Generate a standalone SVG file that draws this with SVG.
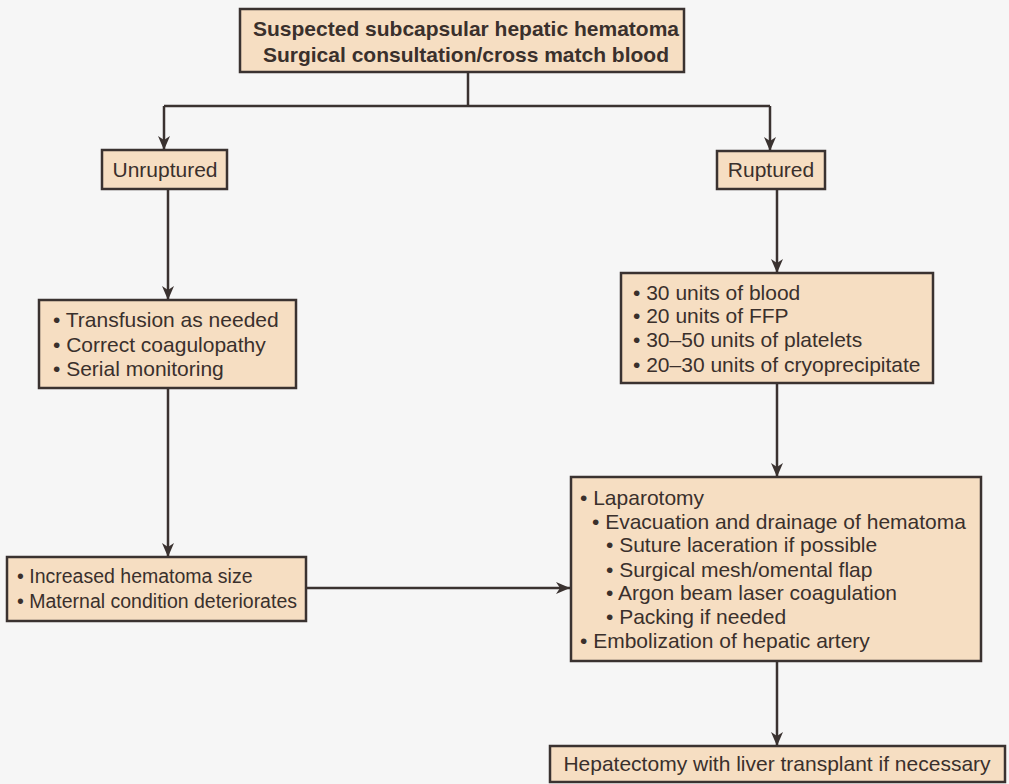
<svg xmlns="http://www.w3.org/2000/svg" width="1009" height="784" viewBox="0 0 1009 784">
  <defs>
    <marker id="arrow" viewBox="0 0 14 12" refX="14" refY="6" markerWidth="14" markerHeight="12" markerUnits="userSpaceOnUse" orient="auto">
      <path d="M14,6 L0,0 L4,6 L0,12 Z" fill="#3a3230"/>
    </marker>
    <style>
      .box { fill: #f6dec2; stroke: #3a3230; stroke-width: 2.5; }
      .t { font-family: "Liberation Sans", Arial, sans-serif; font-size: 21px; fill: #3a302c; }
      .b { font-weight: bold; }
      .c { text-anchor: middle; }
      .edge { fill: none; stroke: #3a3230; stroke-width: 2.5; }
    </style>
  </defs>

  <rect width="1009" height="784" fill="#f6f6f6"/>

  <!-- connectors -->
  <g id="connectors">
    <path class="edge" d="M468,72 V106"/>
    <path class="edge" d="M164,106 H770"/>
    <path class="edge" d="M164,106 V150" marker-end="url(#arrow)"/>
    <path class="edge" d="M770,106 V151" marker-end="url(#arrow)"/>
    <path class="edge" d="M168,189 V300" marker-end="url(#arrow)"/>
    <path class="edge" d="M168,388 V557" marker-end="url(#arrow)"/>
    <path class="edge" d="M777,189 V273" marker-end="url(#arrow)"/>
    <path class="edge" d="M777,383 V477" marker-end="url(#arrow)"/>
    <path class="edge" d="M306,588 H570" marker-end="url(#arrow)"/>
    <path class="edge" d="M777,661 V746" marker-end="url(#arrow)"/>
  </g>

  <!-- start node -->
  <g id="suspected">
    <rect class="box" x="240" y="9" width="444" height="63"/>
    <text class="t b c" x="466" y="36">Suspected subcapsular hepatic hematoma</text>
    <text class="t b c" x="466" y="62">Surgical consultation/cross match blood</text>
  </g>

  <g id="unruptured">
    <rect class="box" x="102" y="150" width="125" height="39"/>
    <text class="t c" x="165" y="177">Unruptured</text>
  </g>

  <g id="ruptured">
    <rect class="box" x="717" y="151" width="108" height="38"/>
    <text class="t c" x="771" y="177">Ruptured</text>
  </g>

  <g id="conservative">
    <rect class="box" x="39" y="300" width="257" height="88"/>
    <text class="t" x="53" y="327">• Transfusion as needed</text>
    <text class="t" x="53" y="352">• Correct coagulopathy</text>
    <text class="t" x="53" y="376">• Serial monitoring</text>
  </g>

  <g id="products">
    <rect class="box" x="621" y="273" width="312" height="110"/>
    <text class="t" x="633" y="300">• 30 units of blood</text>
    <text class="t" x="633" y="323">• 20 units of FFP</text>
    <text class="t" x="633" y="347">• 30–50 units of platelets</text>
    <text class="t" x="633" y="372">• 20–30 units of cryoprecipitate</text>
  </g>

  <g id="deterioration">
    <rect class="box" x="7" y="557" width="299" height="64"/>
    <text class="t" x="17" y="583" style="font-size:19.5px">• Increased hematoma size</text>
    <text class="t" x="17" y="608" style="font-size:19.5px">• Maternal condition deteriorates</text>
  </g>

  <g id="laparotomy">
    <rect class="box" x="571" y="477" width="410" height="184"/>
    <text class="t" x="580" y="505">• Laparotomy</text>
    <text class="t" x="592" y="529">• Evacuation and drainage of hematoma</text>
    <text class="t" x="606" y="552">• Suture laceration if possible</text>
    <text class="t" x="606" y="577">• Surgical mesh/omental flap</text>
    <text class="t" x="606" y="600">• Argon beam laser coagulation</text>
    <text class="t" x="606" y="624">• Packing if needed</text>
    <text class="t" x="580" y="648">• Embolization of hepatic artery</text>
  </g>

  <g id="hepatectomy">
    <rect class="box" x="550" y="746" width="455" height="36"/>
    <text class="t c" x="777" y="771">Hepatectomy with liver transplant if necessary</text>
  </g>
</svg>
